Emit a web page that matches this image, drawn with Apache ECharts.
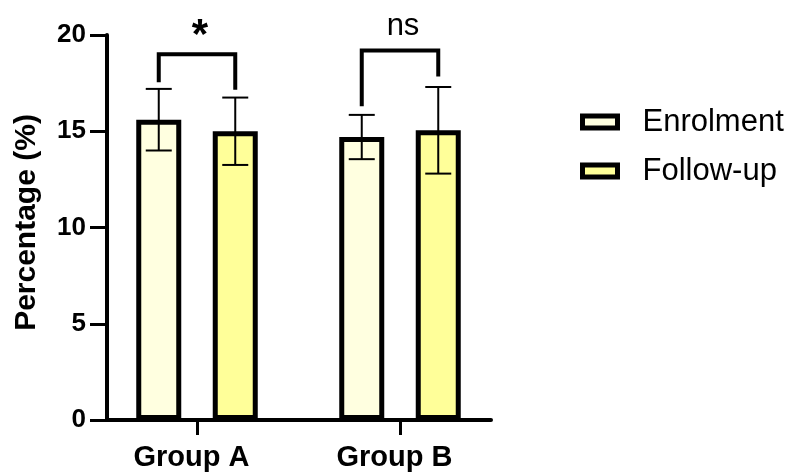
<!DOCTYPE html>
<html>
<head>
<meta charset="utf-8">
<script src="https://cdn.jsdelivr.net/npm/echarts@6/dist/echarts.min.js"></script>
<style>html,body{margin:0;padding:0;background:#fff}#c{width:790px;height:472px}</style>
</head>
<body>
<div id="c"></div>
<script>
var categories = ['Group A', 'Group B'];
var seriesNames = ['Enrolment', 'Follow-up'];
var enrolMean = [15.6, 14.7];
var enrolSD = [1.6, 1.15];
var followMean = [15.0, 15.05];
var followSD = [1.75, 2.25];
var bracketTop = [19.0, 19.2];
var bracketLeftEnd = [17.55, 16.3];
var bracketRightEnd = [17.15, 17.85];
var bracketLabels = ['*', 'ns'];
var yTicks = [0, 5, 10, 15, 20];

var FONT = '"Liberation Sans", Arial, Helvetica, sans-serif';
var BAR_W = 45, BAR_GAP_PX = 31.5;
var HALF = (BAR_W + BAR_GAP_PX) / 2;

var errData = [];
for (var i = 0; i < categories.length; i++) {
  errData.push([i, enrolMean[i], enrolSD[i], -1]);
  errData.push([i, followMean[i], followSD[i], 1]);
}
var brData = [];
for (var j = 0; j < categories.length; j++) {
  brData.push([j, bracketTop[j], bracketLeftEnd[j], bracketRightEnd[j], j]);
}

var chart = echarts.init(document.getElementById('c'));
chart.setOption({
  backgroundColor: '#ffffff',
  animation: false,
  textStyle: { fontFamily: FONT },
  grid: [
    { left: 95.5, width: 406, top: 35, height: 385 },
    { left: 107, width: 384, top: 35, height: 385 }
  ],
  legend: {
    data: seriesNames,
    icon: 'rect',
    orient: 'vertical',
    left: 580,
    top: 106,
    padding: 0,
    itemWidth: 35,
    itemHeight: 12,
    itemGap: 17,
    itemStyle: { borderColor: '#000', borderWidth: 5 },
    textStyle: { fontFamily: FONT, fontSize: 31, color: '#000', lineHeight: 32, padding: [0, 0, 0, 20] }
  },
  xAxis: [
    {
      type: 'category', gridIndex: 0, data: categories,
      axisLine: { show: false },
      axisTick: { show: true, alignWithLabel: true, length: 15, lineStyle: { color: '#000', width: 3 } },
      axisLabel: { fontFamily: FONT, fontSize: 29, fontWeight: 'bold', color: '#000', margin: 23, padding: [0, 11, 0, 0] }
    },
    {
      type: 'value', gridIndex: 1, min: 0, max: 1,
      axisLine: { show: true, onZero: false, lineStyle: { color: '#000', width: 4 } },
      axisTick: { show: false }, axisLabel: { show: false }, splitLine: { show: false }
    }
  ],
  yAxis: [
    { type: 'value', gridIndex: 0, min: 0, max: 20, show: false },
    {
      type: 'value', gridIndex: 1, min: yTicks[0], max: yTicks[yTicks.length - 1], interval: 5,
      name: 'Percentage (%)', nameLocation: 'middle', nameGap: 65, nameRotate: 90,
      nameTextStyle: { fontFamily: FONT, fontSize: 30, fontWeight: 'bold', color: '#000', padding: [0, 0, 0, 10] },
      axisLine: { show: true, lineStyle: { color: '#000', width: 4 } },
      axisTick: { show: true, length: 17, lineStyle: { color: '#000', width: 3 } },
      axisLabel: { fontFamily: FONT, fontSize: 26, fontWeight: 'bold', color: '#000', margin: 21 },
      splitLine: { show: false }
    }
  ],
  series: [
    {
      name: seriesNames[0], type: 'bar', xAxisIndex: 0, yAxisIndex: 0,
      data: enrolMean, barWidth: BAR_W, barGap: (BAR_GAP_PX / BAR_W * 100) + '%',
      itemStyle: { color: '#FFFFE0', borderColor: '#000', borderWidth: 5 }
    },
    {
      name: seriesNames[1], type: 'bar', xAxisIndex: 0, yAxisIndex: 0,
      data: followMean, barWidth: BAR_W, barGap: (BAR_GAP_PX / BAR_W * 100) + '%',
      itemStyle: { color: '#FFFF99', borderColor: '#000', borderWidth: 5 }
    },
    {
      type: 'custom', xAxisIndex: 0, yAxisIndex: 0, z: 5, data: errData,
      encode: { x: 0, y: 1 },
      renderItem: function (params, api) {
        var c = api.value(0), m = api.value(1), sd = api.value(2), side = api.value(3);
        var top = api.coord([c, m + sd]);
        var bot = api.coord([c, m - sd]);
        var x = top[0] + side * HALF;
        var cap = 13;
        var st = { stroke: '#000', lineWidth: 2 };
        return { type: 'group', children: [
          { type: 'line', shape: { x1: x, y1: top[1], x2: x, y2: bot[1] }, style: st },
          { type: 'line', shape: { x1: x - cap, y1: top[1], x2: x + cap, y2: top[1] }, style: st },
          { type: 'line', shape: { x1: x - cap, y1: bot[1], x2: x + cap, y2: bot[1] }, style: st }
        ]};
      }
    },
    {
      type: 'custom', xAxisIndex: 0, yAxisIndex: 0, z: 5, data: brData,
      encode: { x: 0, y: 1 },
      renderItem: function (params, api) {
        var c = api.value(0);
        var t = api.coord([c, api.value(1)]);
        var l = api.coord([c, api.value(2)]);
        var r = api.coord([c, api.value(3)]);
        var xl = t[0] - HALF, xr = t[0] + HALF;
        var idx = api.value(4);
        var lab = bracketLabels[idx];
        var isStar = lab === '*';
        return { type: 'group', children: [
          { type: 'polyline', shape: { points: [[xl, l[1]], [xl, t[1]], [xr, t[1]], [xr, r[1]]] },
            style: { stroke: '#000', lineWidth: 4, fill: null } },
          { type: 'text', x: t[0] + 3, y: t[1] - (isStar ? -3 : 8),
            style: { text: lab, fill: '#000', align: 'center', verticalAlign: 'bottom',
              font: (isStar ? 'bold 42px ' : '31px ') + FONT } }
        ]};
      }
    }
  ]
});
</script>
</body>
</html>
